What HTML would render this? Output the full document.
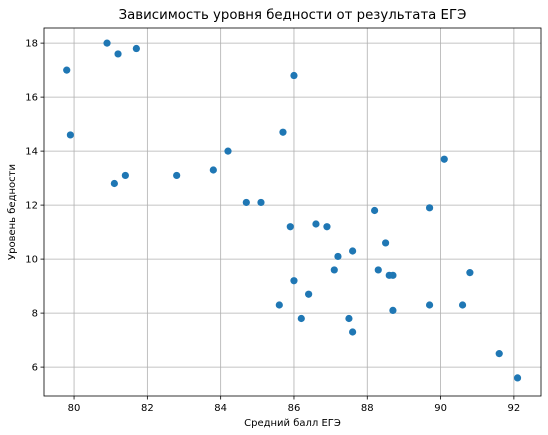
<!DOCTYPE html>
<html><head><meta charset="utf-8"><style>
body{margin:0;background:#fff;}
svg{display:block;font-family:"DejaVu Sans","Liberation Sans",sans-serif;}
</style></head><body>
<svg id="chart" width="548" height="435"></svg>
<script>
const xValues=[79.8,79.9,80.9,81.2,81.7,81.1,81.4,82.8,83.8,84.2,84.7,85.1,86.0,85.7,85.9,86.0,85.6,86.4,86.2,86.6,86.9,87.2,87.1,87.6,87.5,87.6,88.2,88.5,88.3,88.6,88.7,88.7,89.7,90.1,89.7,90.6,90.8,91.6,92.1];
const yValues=[17.0,14.6,18.0,17.6,17.8,12.8,13.1,13.1,13.3,14.0,12.1,12.1,16.8,14.7,11.2,9.2,8.3,8.7,7.8,11.3,11.2,10.1,9.6,10.3,7.8,7.3,11.8,10.6,9.6,9.4,9.4,8.1,11.9,13.7,8.3,8.3,9.5,6.5,5.6];
const xTicks=[80,82,84,86,88,90,92];
const yTicks=[6,8,10,12,14,16,18];
const L=44,R=541,T=28,B=396;
const xMin=79.18,xMax=92.74,yMin=4.93,yMax=18.56;
const sx=v=>L+(v-xMin)/(xMax-xMin)*(R-L);
const sy=v=>B-(v-yMin)/(yMax-yMin)*(B-T);
const svg=document.getElementById('chart');
const NS='http://www.w3.org/2000/svg';
function mk(tag,attrs,parent){const e=document.createElementNS(NS,tag);for(const k in attrs)e.setAttribute(k,attrs[k]);(parent||svg).appendChild(e);return e;}
const grid=mk('g',{});


xTicks.forEach(t=>{
  const x=sx(t);
  const l=mk('line',{x1:x,x2:x,y1:T,y2:B,stroke:'#b0b0b0','stroke-width':0.8},grid);
  
  
  mk('line',{x1:x,x2:x,y1:B,y2:B+3.5,stroke:'#000','stroke-width':0.8});
  const tx=mk('text',{x:x,y:B+15,'font-size':10,'text-anchor':'middle'});
  tx.textContent=t;
  
  
});
yTicks.forEach(t=>{
  const y=sy(t);
  const l=mk('line',{x1:L,x2:R,y1:y,y2:y,stroke:'#b0b0b0','stroke-width':0.8},grid);
  
  
  mk('line',{x1:L-3.5,x2:L,y1:y,y2:y,stroke:'#000','stroke-width':0.8});
  const tx=mk('text',{x:L-6,y:y+3.5,'font-size':10,'text-anchor':'end'});
  tx.textContent=t;
  
  
});
const pts=mk('g',{});


xValues.forEach((v,i)=>{
  const c=mk('circle',{cx:sx(v),cy:sy(yValues[i]),r:3.6,fill:'#1f77b4'},pts);
  
  
});
const frame=mk('rect',{x:L,y:T,width:R-L,height:B-T,fill:'none',stroke:'#000','stroke-width':0.8});


const title=mk('text',{x:(L+R)/2,y:19,'font-size':13.3,'text-anchor':'middle'});
title.textContent='Зависимость уровня бедности от результата ЕГЭ';


const xl=mk('text',{x:(L+R)/2,y:426,'font-size':10,'text-anchor':'middle'});
xl.textContent='Средний балл ЕГЭ';


const yl=mk('text',{x:0,y:0,'font-size':10,'text-anchor':'middle',transform:'translate(15,'+((T+B)/2)+') rotate(-90)'});
yl.textContent='Уровень бедности';


</script>
</body></html>
